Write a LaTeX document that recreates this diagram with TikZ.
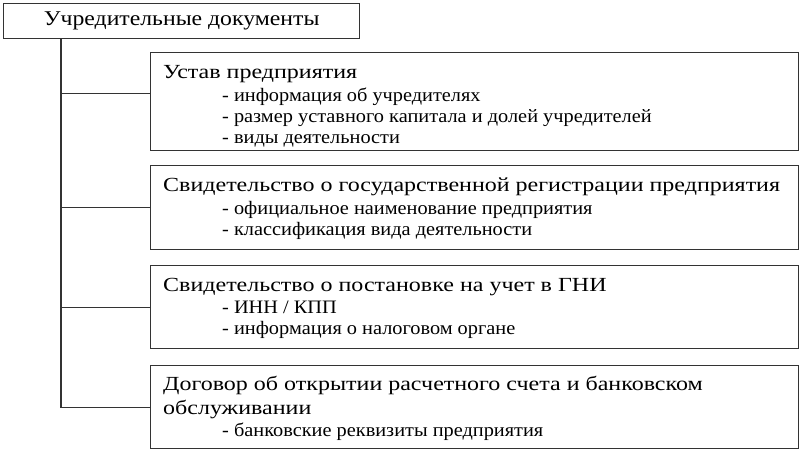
\documentclass[tikz,border=0pt]{standalone}
\usepackage{fontspec}
\setmainfont{Liberation Serif}
\newfontfamily\titlefont{Liberation Serif}[FakeStretch=1.13]
\newfontfamily\headfont{Liberation Serif}[FakeStretch=1.2]
\newfontfamily\itemfont{Liberation Serif}[FakeStretch=1.07]
\usetikzlibrary{positioning}

\tikzset{
  doc box/.style={draw=black!80, line width=1.3pt, rectangle, anchor=north west,
    minimum width=648pt, inner sep=0pt},
  doc text/.style={anchor=north west, align=left, inner xsep=13pt, inner ysep=9pt,
    font=\itemfont\fontsize{19}{21}\selectfont},
  link/.style={draw=black!80, line width=1.3pt},
}
\newcommand{\headline}[1]{{\headfont\fontsize{20}{24}\selectfont\strut #1}}
\newcommand{\itemline}[1]{\hspace*{59pt}- #1}

\begin{document}
\begin{tikzpicture}[x=1pt,y=1pt]
    \useasboundingbox (0,0) rectangle (800,-450);
    % root
    \node [doc box, minimum width=356pt, minimum height=35pt,
      font=\titlefont\fontsize{21}{24}\selectfont] (top) at (3,-3) {Учредительные документы};
    % boxes
    \node [doc box, minimum height=98pt] (box1) at (150,-52) {};
    \node [doc box, minimum height=84pt] (box2) at (150,-165) {};
    \node [doc box, minimum height=83pt] (box3) at (150,-265) {};
    \node [doc box, minimum height=83pt] (box4) at (150,-365) {};
    % texts
    \node [doc text] (box1 text) at (box1.north west) {\headline{Устав предприятия}\\[2pt]
      \itemline{информация об учредителях}\\
      \itemline{размер уставного капитала и долей учредителей}\\
      \itemline{виды деятельности}};
    \node [doc text] (box2 text) at (box2.north west) {\headline{Свидетельство о государственной регистрации предприятия}\\[2pt]
      \itemline{официальное наименование предприятия}\\
      \itemline{классификация вида деятельности}};
    \node [doc text] (box3 text) at (box3.north west) {\headline{Свидетельство о постановке на учет в ГНИ}\\[1pt]
      \itemline{ИНН / КПП}\\
      \itemline{информация о налоговом органе}};
    \node [doc text, inner ysep=8pt] (box4 text) at (box4.north west) {\headline{Договор об открытии расчетного счета и банковском}\\[-1pt]
      \headline{обслуживании}\\[1pt]
      \itemline{банковские реквизиты предприятия}};
    % connectors
    \coordinate (trunk) at ([xshift=58pt]top.south west);
    \draw [link] (trunk) |- (box4.west);
    \foreach \b/\s in {box1/8, box2/0, box3/0}
      \draw [link] ([yshift=\s pt]\b.west) -- ([yshift=\s pt]\b.west -| trunk);
\end{tikzpicture}
\end{document}
